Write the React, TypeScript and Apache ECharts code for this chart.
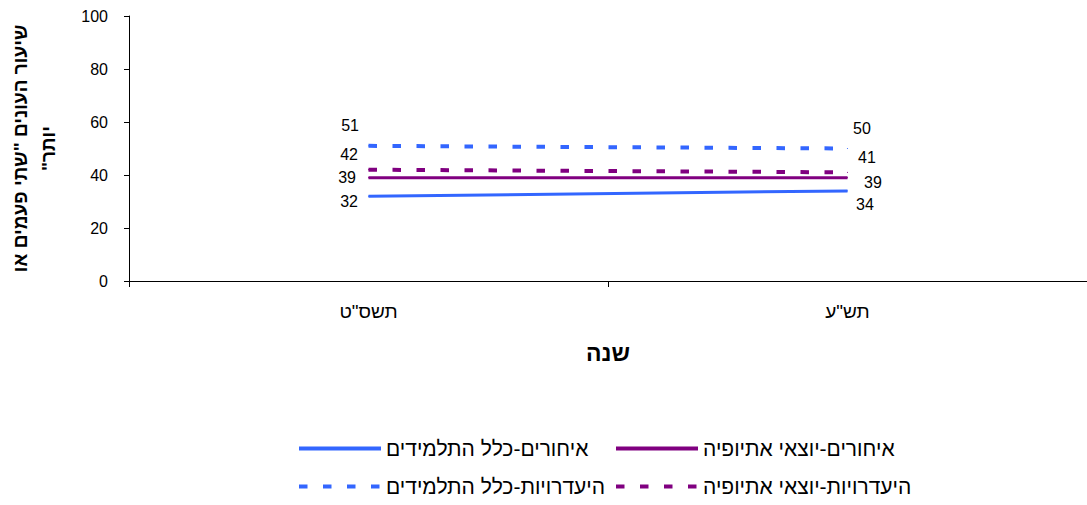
import React, { useEffect, useRef } from "react";
import * as echarts from "echarts";

const categories = ['תשס"ט', 'תש"ע'];
const seriesNames = [
  "איחורים-כלל התלמידים",
  "איחורים-יוצאי אתיופיה",
  "היעדרויות-כלל התלמידים",
  "היעדרויות-יוצאי אתיופיה",
];
const lateAll = [32, 34];
const lateEthiopia = [39, 39];
const absentAll = [51, 50];
const absentEthiopia = [42, 41];
const yName = 'שיעור העונים "שתי פעמים או\nיותר"\u200F';
const xName = "שנה";

const BLUE = "#3366FF";
const PURPLE = "#800080";
const FONT = "'Liberation Sans', Arial, sans-serif";
const HEB = "'Liberation Sans', Arial, sans-serif";

// label offsets [left point, right point]
const labelOffsets: Record<string, [number, number][]> = {
  lateAll: [[-5, 5], [3, 14]],
  lateEthiopia: [[-7, 0], [11, 5]],
  absentAll: [[-4, -20], [0, -20]],
  absentEthiopia: [[-5, -15], [5, -15]],
};

function withLabels(values: number[], key: string) {
  return values.map((v, i) => ({
    value: v,
    label: {
      position: i === 0 ? "left" : "right",
      offset: labelOffsets[key][i],
    },
  }));
}

export default function App() {
  const ref = useRef<HTMLDivElement>(null);
  useEffect(() => {
    if (!ref.current) return;
    const chart = echarts.init(ref.current, undefined, { renderer: "svg" });
    const labelBase = {
      show: true,
      color: "#000",
      fontSize: 16,
      fontFamily: FONT,
      distance: 5,
    };
    const mk = (name: string, values: number[], key: string, color: string, dashed: boolean) => ({
      name,
      type: "line",
      data: withLabels(values, key),
      symbol: "circle",
      symbolSize: 1,
      showSymbol: true,
      lineStyle: dashed
        ? { color, width: 4, type: [8.5, 15.5] }
        : { color, width: 3, type: "solid" },
      itemStyle: { color },
      label: labelBase,
      emphasis: { disabled: true },
    });
    const legendCommon = {
      itemWidth: 82,
      itemHeight: 14,
      itemGap: 5,
      padding: 0,
      itemStyle: { opacity: 0 },
      lineStyle: { width: 4 },
      textStyle: { color: "#000", fontSize: 21, lineHeight: 21, fontFamily: HEB },
    };
    chart.setOption({
      animation: false,
      textStyle: { fontFamily: FONT },
      grid: { left: 129, right: 0, top: 16, bottom: 224, outerBoundsMode: "none", containLabel: false },
      legend: [
        { ...legendCommon, data: [seriesNames[0]], left: 297, top: 438 },
        { ...legendCommon, data: [seriesNames[1]], left: 614, top: 438 },
        { ...legendCommon, data: [seriesNames[2]], left: 297, top: 476 },
        { ...legendCommon, data: [seriesNames[3]], left: 614, top: 476 },
      ],
      xAxis: {
        type: "category",
        data: categories,
        name: xName,
        nameLocation: "middle",
        nameGap: 60,
        nameTextStyle: { color: "#000", fontSize: 23, fontWeight: "bold", fontFamily: HEB },
        axisLine: { lineStyle: { color: "#000", width: 1 } },
        axisTick: { show: true, length: 6, lineStyle: { color: "#000" } },
        axisLabel: { color: "#000", fontSize: 19, margin: 21, fontFamily: HEB },
      },
      yAxis: {
        type: "value",
        min: 0,
        max: 100,
        interval: 20,
        name: yName,
        nameLocation: "middle",
        nameGap: 67,
        nameTextStyle: {
          color: "#000",
          fontSize: 19,
          fontWeight: "bold",
          fontFamily: HEB,
          lineHeight: 28,
        },
        axisLine: { show: true, lineStyle: { color: "#000", width: 1 } },
        axisTick: { show: true, length: 5, lineStyle: { color: "#000" } },
        axisLabel: { color: "#000", fontSize: 16, margin: 21, fontFamily: FONT },
        splitLine: { show: false },
      },
      series: [
        mk(seriesNames[0], lateAll, "lateAll", BLUE, false),
        mk(seriesNames[1], lateEthiopia, "lateEthiopia", PURPLE, false),
        mk(seriesNames[2], absentAll, "absentAll", BLUE, true),
        mk(seriesNames[3], absentEthiopia, "absentEthiopia", PURPLE, true),
      ],
    });
    return () => chart.dispose();
  }, []);
  return (
    <div
      ref={ref}
      style={{ position: "fixed", left: 0, top: 0, width: 1087, height: 505, background: "#fff" }}
    />
  );
}
